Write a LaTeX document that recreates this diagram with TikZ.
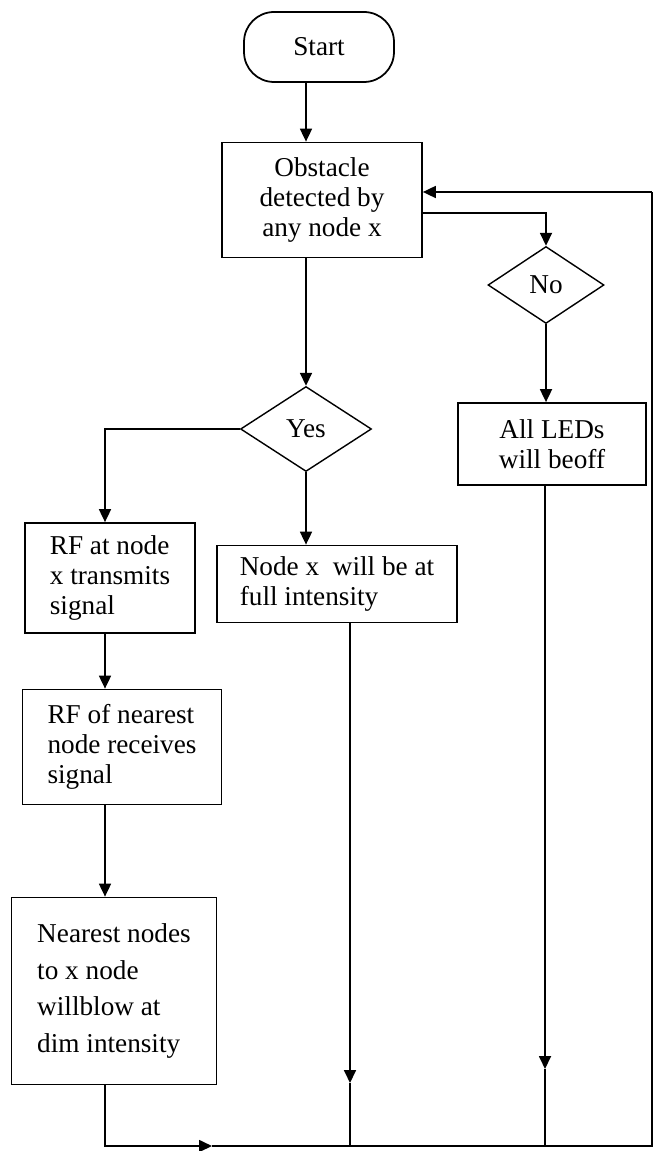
\documentclass[tikz,border=0pt]{standalone}
\usepackage{fontspec}
\setmainfont{Liberation Serif}
\usepackage{tikz}
\usetikzlibrary{arrows.meta,positioning,shapes.geometric}

\begin{document}
\begin{tikzpicture}[
    x=0.02cm, y=-0.02cm,
    box/.style={draw, line width=1pt, inner sep=2pt, font=\fontsize{15.5}{17}\selectfont},
    dec/.style={draw, diamond, line width=0.8pt, inner sep=0pt, font=\fontsize{15.5}{17}\selectfont},
    arr/.style={line width=1pt, -{Triangle[length=0.26cm,width=0.24cm]}},
    ln/.style={line width=1pt}
]
\useasboundingbox (0,0) rectangle (654,1151);

% Start and check
\node[box, rounded corners=0.6cm, minimum width=3cm, minimum height=1.4cm] (start) at (319,47) {Start};
\node[box, minimum width=4cm, minimum height=2.3cm, align=center] (obst) at (322,200) {Obstacle\\detected by\\any node x};
\node[dec, minimum width=2.62cm, minimum height=1.7cm] (yes) at (306,429) {Yes};
\node[dec, minimum width=2.32cm, minimum height=1.54cm] (no) at (546,285) {No};
\draw[arr] (start.south -| yes.north) -- (obst.north -| yes.north);
\draw[arr] (obst.south -| yes.north) -- (yes.north);

% No branch
\node[box, minimum width=3.76cm, minimum height=1.64cm, align=center] (led) at (552,444) {All LEDs\\will beoff};
\draw[arr] ([yshift=-0.26cm]obst.east) -| (no.north);
\draw[arr] (no.south) -- (no.south |- led.north);

% Yes branch
\coordinate (b1) at (105,1146);
\node[box, minimum width=3.4cm, minimum height=2.2cm, align=left] (rf1) at (110,578) {RF at node\\x transmits\\signal};
\node[box, minimum width=3.98cm, minimum height=2.3cm, align=left] (rf2) at (122,747) {RF of nearest\\node receives\\signal};
\node[box, minimum width=4.1cm, minimum height=3.74cm, align=left, font=\fontsize{15.5}{21}\selectfont] (near) at (114,991) {Nearest nodes\\to x node\\willblow at\\dim intensity};
\node[box, minimum width=4.8cm, minimum height=1.54cm, align=left] (nx) at (337,584) {Node x\ \ will be at\\full intensity};
\draw[arr] (yes.west) -| (rf1.north -| b1);
\draw[arr] (rf1.south -| b1) -- (rf2.north -| b1);
\draw[arr] (rf2.south -| b1) -- (near.north -| b1);
\draw[arr] (yes.south) -- (nx.north -| yes.south);

% Back to the check
\coordinate (b2) at (350,1146);
\coordinate (b3) at (545,1146);
\coordinate (b4) at (652,1146);
\coordinate (t4) at (652,192);
\coordinate (m1) at (212,1146);
\coordinate (m2) at (350,1083);
\coordinate (m3) at (545,1069);
\draw[arr] (near.south -| b1) -- (b1) -- (m1);
\draw[ln] (m1) -- (b4) -- (t4);
\draw[arr] (t4) -- (obst.east |- t4);
\draw[arr] (nx.south -| m2) -- (m2);
\draw[ln] (m2) -- (b2);
\draw[arr] (led.south -| m3) -- (m3);
\draw[ln] (m3) -- (b3);
\end{tikzpicture}
\end{document}
